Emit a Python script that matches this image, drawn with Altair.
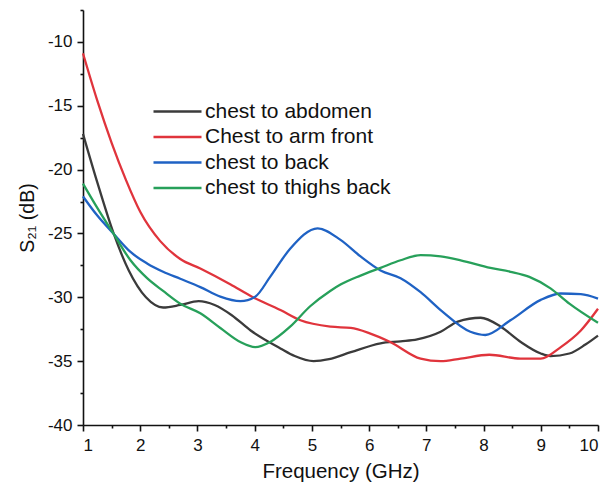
import altair as alt
import pandas as pd

FONT = "Liberation Sans"

series_names = ["chest to abdomen", "Chest to arm front", "chest to back", "chest to thighs back"]
series_colors = ["#3b3b3b", "#e0343c", "#1f62c4", "#27a05a"]

abdomen_f = [1.0, 1.25, 1.535, 1.8, 2.1, 2.4, 2.7, 3.02, 3.3, 3.6, 3.93, 4.45, 4.7, 5.03, 5.3, 5.68, 6.2, 6.55, 6.84, 7.25, 7.55, 7.95, 8.3, 8.65, 9.0, 9.17, 9.5, 9.78, 10.0]
abdomen_v = [-17.2, -21.0, -25.0, -27.9, -30.0, -30.8, -30.6, -30.3, -30.6, -31.4, -32.6, -34.0, -34.6, -35.0, -34.85, -34.3, -33.6, -33.45, -33.3, -32.7, -31.9, -31.6, -32.3, -33.5, -34.4, -34.6, -34.4, -33.7, -33.0]

arm_f = [1.0, 1.25, 1.5, 1.75, 2.0, 2.35, 2.7, 3.05, 3.58, 3.93, 4.45, 4.8, 5.33, 5.68, 6.0, 6.37, 6.9, 7.25, 7.6, 8.1, 8.64, 9.0, 9.35, 9.7, 10.0]
arm_v = [-10.9, -14.6, -17.9, -20.8, -23.3, -25.6, -27.0, -27.75, -29.0, -29.9, -31.0, -31.8, -32.3, -32.4, -32.8, -33.5, -34.8, -35.0, -34.8, -34.5, -34.8, -34.8, -33.9, -32.6, -30.9]

back_f = [1.0, 1.25, 1.53, 1.83, 2.12, 2.4, 2.7, 3.05, 3.4, 3.75, 4.01, 4.27, 4.62, 5.1, 5.5, 5.85, 6.2, 6.55, 6.9, 7.25, 7.77, 8.03, 8.47, 9.0, 9.35, 9.7, 10.0]
back_v = [-22.1, -23.6, -25.0, -26.45, -27.35, -28.0, -28.55, -29.2, -29.95, -30.3, -29.95, -28.4, -26.2, -24.6, -25.5, -26.8, -27.9, -28.5, -29.6, -31.0, -32.7, -32.95, -31.8, -30.2, -29.7, -29.75, -30.1]

thighs_f = [1.0, 1.25, 1.53, 1.83, 2.12, 2.4, 2.7, 3.05, 3.4, 3.75, 4.01, 4.27, 4.62, 4.97, 5.32, 5.5, 5.85, 6.2, 6.55, 6.9, 7.25, 7.6, 8.12, 8.47, 8.8, 9.17, 9.5, 10.0]
thighs_v = [-21.1, -23.0, -25.0, -27.1, -28.5, -29.5, -30.5, -31.25, -32.4, -33.5, -33.9, -33.5, -32.3, -30.7, -29.5, -29.0, -28.3, -27.7, -27.1, -26.7, -26.8, -27.1, -27.7, -28.0, -28.4, -29.3, -30.5, -32.0]

frames = []
for name, fs, vs in zip(series_names,
                        [abdomen_f, arm_f, back_f, thighs_f],
                        [abdomen_v, arm_v, back_v, thighs_v]):
    frames.append(pd.DataFrame({"freq": fs, "s21": vs, "path": name}))
data = pd.concat(frames, ignore_index=True)

# major ticks carry labels, the half steps in between are short minor ticks
x_ticks = [1 + 0.5 * i for i in range(19)]
y_ticks = [-40 + 2.5 * i for i in range(14)]

chart = alt.Chart(data).mark_line(
    interpolate="monotone", strokeWidth=2.3
).encode(
    x=alt.X(
        "freq:Q",
        scale=alt.Scale(domain=[1, 10], nice=False, zero=False),
        axis=alt.Axis(
            title="Frequency (GHz)",
            values=x_ticks,
            labelExpr="datum.value % 1 ? '' : '' + datum.value",
            tickSize={"expr": "datum.value % 1 ? 3 : 6"},
            labelPadding=6,
            titlePadding=8,
            titleFontSize=20.5,
            grid=False,
        ),
    ),
    y=alt.Y(
        "s21:Q",
        scale=alt.Scale(domain=[-40, -7.5], nice=False, zero=False),
        axis=alt.Axis(
            title="S₂₁ (dB)",
            values=y_ticks,
            labelExpr="datum.value % 5 ? '' : '' + datum.value",
            tickSize={"expr": "datum.value % 5 ? 3 : 6"},
            labelPadding=5,
            titlePadding=10,
            titleFontSize=19.5,
            grid=False,
        ),
    ),
    color=alt.Color(
        "path:N",
        scale=alt.Scale(domain=series_names, range=series_colors),
        sort=series_names,
        legend=alt.Legend(
            title=None,
            orient="none",
            legendX=81,
            legendY=88,
            # a horizontal stroke twice as long as the symbol cell is wide
            symbolType="M-2,0H2",
            symbolSize=576,
            symbolStrokeWidth=2.5,
            labelFontSize=21,
            labelFont=FONT,
            labelColor="#111111",
            labelLimit=400,
            rowPadding=1.5,
            labelOffset=14,
            padding=0,
        ),
    ),
).properties(
    width=515,
    height=415,
    padding={"left": 83, "top": 10, "right": 13, "bottom": 69},
    autosize=alt.AutoSizeParams(type="none"),
).configure_view(
    stroke=None
).configure_axis(
    domainColor="#111111",
    domainWidth=1.6,
    tickColor="#111111",
    tickWidth=1.6,
    labelFont=FONT,
    labelFontSize=17,
    labelColor="#111111",
    titleFont=FONT,
    titleFontWeight="normal",
    titleColor="#111111",
)

chart.save("out.html", embed_options={"renderer": "svg", "actions": False})
